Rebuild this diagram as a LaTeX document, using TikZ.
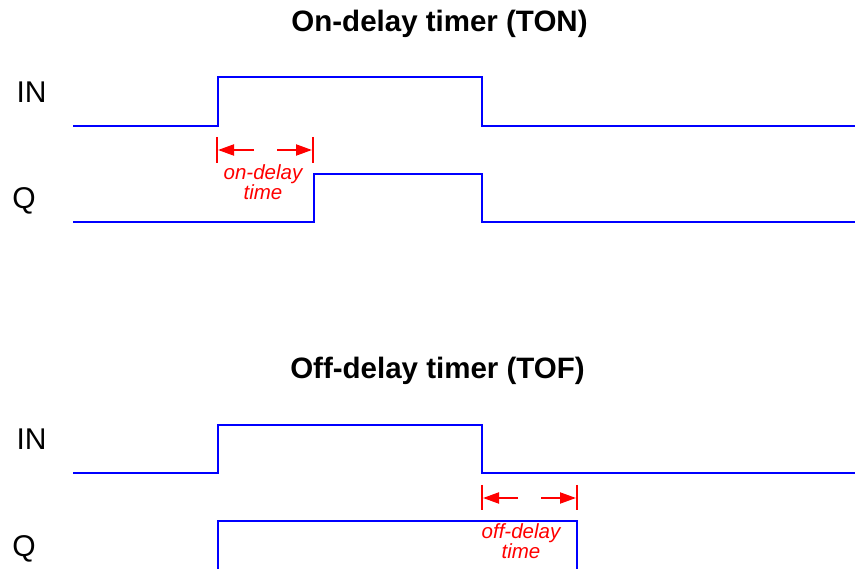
\documentclass[tikz,border=0pt]{standalone}
\usepackage{fontspec}
\setmainfont{Liberation Sans}
\usetikzlibrary{arrows.meta}
\definecolor{sigblue}{RGB}{0,0,255}
\definecolor{annred}{RGB}{255,0,0}
\begin{document}
\begin{tikzpicture}[x=1pt,y=-1pt,
  wave/.style={draw=sigblue,line width=2.4pt,line join=miter},
  tick/.style={draw=annred,line width=2pt},
  dimarrow/.style={draw=annred,line width=2pt,-{Triangle[length=16pt,width=11pt]}},
  title/.style={font=\fontsize{29.5}{34}\selectfont\bfseries,anchor=base,inner sep=0pt},
  siglabel/.style={font=\fontsize{30}{34}\selectfont,anchor=base,inner sep=0pt},
  anntext/.style={font=\fontsize{20.5}{15.5}\selectfont\itshape,text=annred,align=center,inner sep=0pt,anchor=north}]
\useasboundingbox (0,0) rectangle (855,569);

% ---------- On-delay ----------
\node[title] (t1) at (439.5,31.7) {On-delay timer (TON)};
\node[siglabel] (in1) at (31.5,102.7) {IN};
\node[siglabel] (q1) at (24,209) {Q};

\coordinate (a0) at (73,126);
\coordinate (a1) at (218,126);
\coordinate (a2) at (218,77);
\coordinate (a3) at (482,77);
\coordinate (a4) at (482,126);
\coordinate (a5) at (855,126);
\draw[wave] (a0) -- (a1) -- (a2) -- (a3) -- (a4) -- (a5);

\coordinate (b0) at (73,222);
\coordinate (b1) at (314,222);
\coordinate (b2) at (314,174);
\coordinate (b3) at (482,174);
\coordinate (b4) at (482,222);
\coordinate (b5) at (855,222);
\draw[wave] (b0) -- (b1) -- (b2) -- (b3) -- (b4) -- (b5);

\coordinate (k1t) at (217,137);
\coordinate (k1b) at (217,163);
\coordinate (k2t) at (313,137);
\coordinate (k2b) at (313,163);
\draw[tick] (k1t) -- (k1b);
\draw[tick] (k2t) -- (k2b);
\coordinate (s1) at (254,150);
\coordinate (e1) at (218,150);
\coordinate (s2) at (277,150);
\coordinate (e2) at (312,150);
\draw[dimarrow] (s1) -- (e1);
\draw[dimarrow] (s2) -- (e2);
\node[anntext] (ont) at (263,164.5) {on-delay\\time};

% ---------- Off-delay ----------
\node[title] (t2) at (437.5,378.3) {Off-delay timer (TOF)};
\node[siglabel] (in2) at (31.5,450) {IN};
\node[siglabel] (q2) at (24,556.5) {Q};

\coordinate (c0) at (73,473);
\coordinate (c1) at (218,473);
\coordinate (c2) at (218,425);
\coordinate (c3) at (482,425);
\coordinate (c4) at (482,473);
\coordinate (c5) at (855,473);
\draw[wave] (c0) -- (c1) -- (c2) -- (c3) -- (c4) -- (c5);

\coordinate (d0) at (218,575);
\coordinate (d1) at (218,521);
\coordinate (d2) at (577,521);
\coordinate (d3) at (577,575);
\draw[wave] (d0) -- (d1) -- (d2) -- (d3);

\coordinate (m1t) at (482,485);
\coordinate (m1b) at (482,510);
\coordinate (m2t) at (577,485);
\coordinate (m2b) at (577,510);
\draw[tick] (m1t) -- (m1b);
\draw[tick] (m2t) -- (m2b);
\coordinate (u1) at (518,498);
\coordinate (f1) at (483,498);
\coordinate (u2) at (541,498);
\coordinate (f2) at (576,498);
\draw[dimarrow] (u1) -- (f1);
\draw[dimarrow] (u2) -- (f2);
\node[anntext] (offt) at (521,523) {off-delay\\time};
\end{tikzpicture}
\end{document}
